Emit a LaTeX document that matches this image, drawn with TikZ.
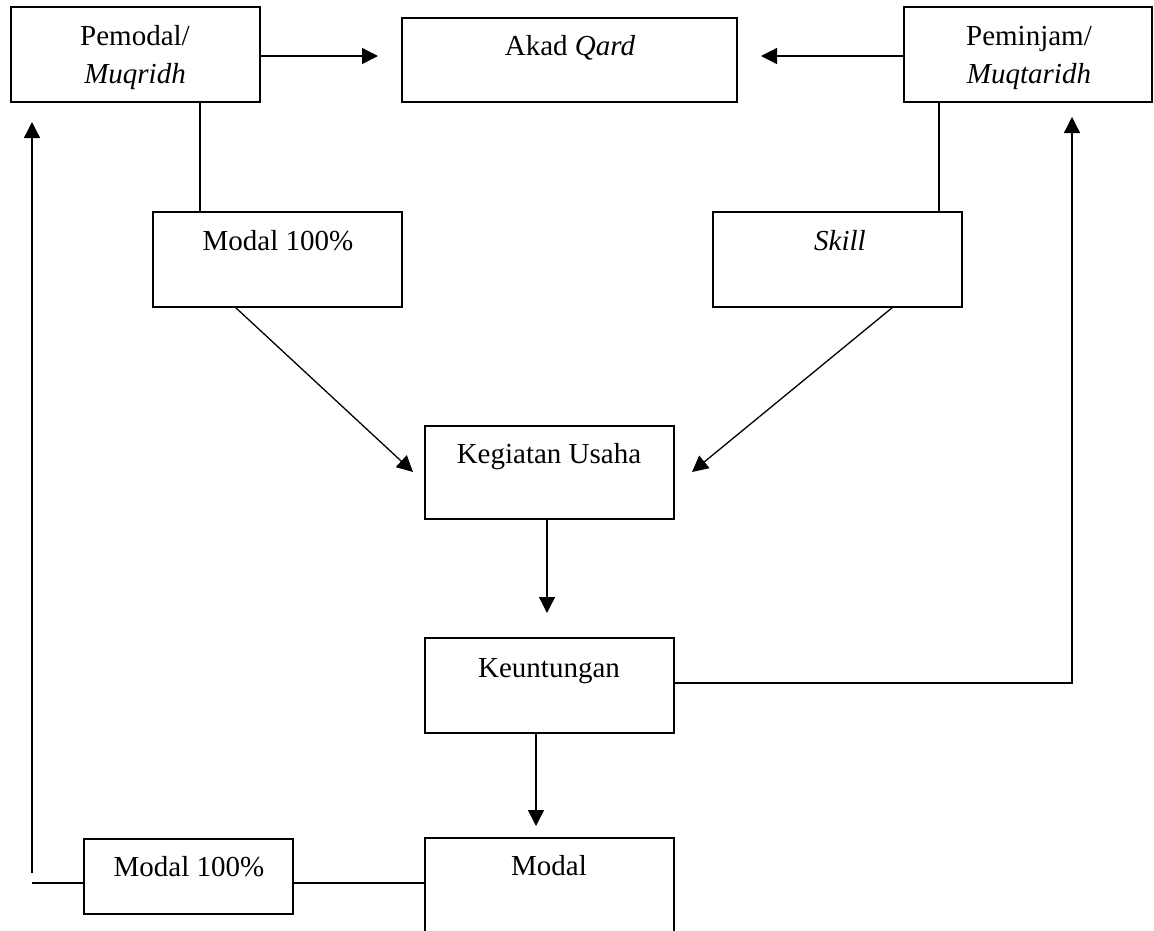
\documentclass[tikz,border=0pt]{standalone}
\usepackage{fontspec}
\setmainfont{Liberation Serif}
\usetikzlibrary{arrows.meta,calc}
\begin{document}
\begin{tikzpicture}[x=1pt,y=-1pt,
  box/.style={draw,line width=1.3pt,minimum width=249pt,inner sep=0pt,outer sep=0pt},
  txt/.style={anchor=base,inner sep=0pt,font=\fontsize{29}{35}\selectfont},
  ln/.style={line width=1.3pt},
  arr/.style={line width=1.3pt,-{Triangle[length=16pt,width=16pt]}}]
\clip (0,0) rectangle (1154,930);
\fill[white] (0,0) rectangle (1154,930);
% boxes
\node[box,minimum height=95pt] (pem) at (135.5,54.5) {};
\node[box,minimum width=335pt,minimum height=84pt] (akad) at (569.5,60) {};
\node[box,minimum width=248pt,minimum height=95pt] (pmj) at (1028,54.5) {};
\node[box,minimum height=95pt] (mod1) at (277.5,259.5) {};
\node[box,minimum height=95pt] (skill) at (837.5,259.5) {};
\node[box,minimum height=93pt] (keg) at (549.5,472.5) {};
\node[box,minimum height=95pt] (keu) at (549.5,685.5) {};
\node[box,minimum height=104pt] (modal) at (549.5,890) {};
\node[box,minimum width=209pt,minimum height=75pt] (mod2) at (188.5,876.5) {};
% texts
\node[txt] (pemA) at (135,45) {Pemodal/};
\node[txt] (pemB) at (135,83) {\itshape Muqridh};
\node[txt] (akadT) at (570,55) {Akad \textit{Qard}};
\node[txt] (pmjA) at (1029,45) {Peminjam/};
\node[txt] (pmjB) at (1029,83) {\itshape Muqtaridh};
\node[txt] (mod1T) at (278,250) {Modal 100\%};
\node[txt] (skillT) at (840,250) {\itshape Skill};
\node[txt] (kegT) at (549,463) {Kegiatan Usaha};
\node[txt] (keuT) at (549,677) {Keuntungan};
\node[txt] (modalT) at (549,875) {Modal};
\node[txt] (mod2T) at (189,876) {Modal 100\%};
% coordinates
\coordinate (a1) at (378,56);
\coordinate (a2) at (761,56);
\coordinate (v1) at (200,0);
\coordinate (v2) at (939,0);
\coordinate (d1s) at (235,0);
\coordinate (d1e) at (413,472);
\coordinate (d2s) at (893,0);
\coordinate (d2e) at (692,472);
\coordinate (k1) at (547,613);
\coordinate (k2) at (536,826);
\coordinate (r1) at (1072,683);
\coordinate (r2) at (1072,117);
\coordinate (h1) at (0,883);
\coordinate (l1) at (32,883);
\coordinate (l2) at (32,873);
\coordinate (l3) at (32,122);
% connectors
\draw[arr] (pem.east |- a1) -- (a1);
\draw[arr] (pmj.west |- a2) -- (a2);
\draw[ln] (v1 |- pem.south) -- (v1 |- mod1.north);
\draw[ln] (v2 |- pmj.south) -- (v2 |- skill.north);
\draw[arr] (d1s |- mod1.south) -- (d1e);
\draw[arr] (d2s |- skill.south) -- (d2e);
\draw[arr] (keg.south -| k1) -- (k1);
\draw[arr] (keu.east |- r1) -- (r1) -- (r2);
\draw[arr] (keu.south -| k2) -- (k2);
\draw[ln] (modal.west |- h1) -- (mod2.east |- h1);
\draw[ln] (mod2.west |- h1) -- (l1);
\draw[arr] (l2) -- (l3);
\end{tikzpicture}
\end{document}
